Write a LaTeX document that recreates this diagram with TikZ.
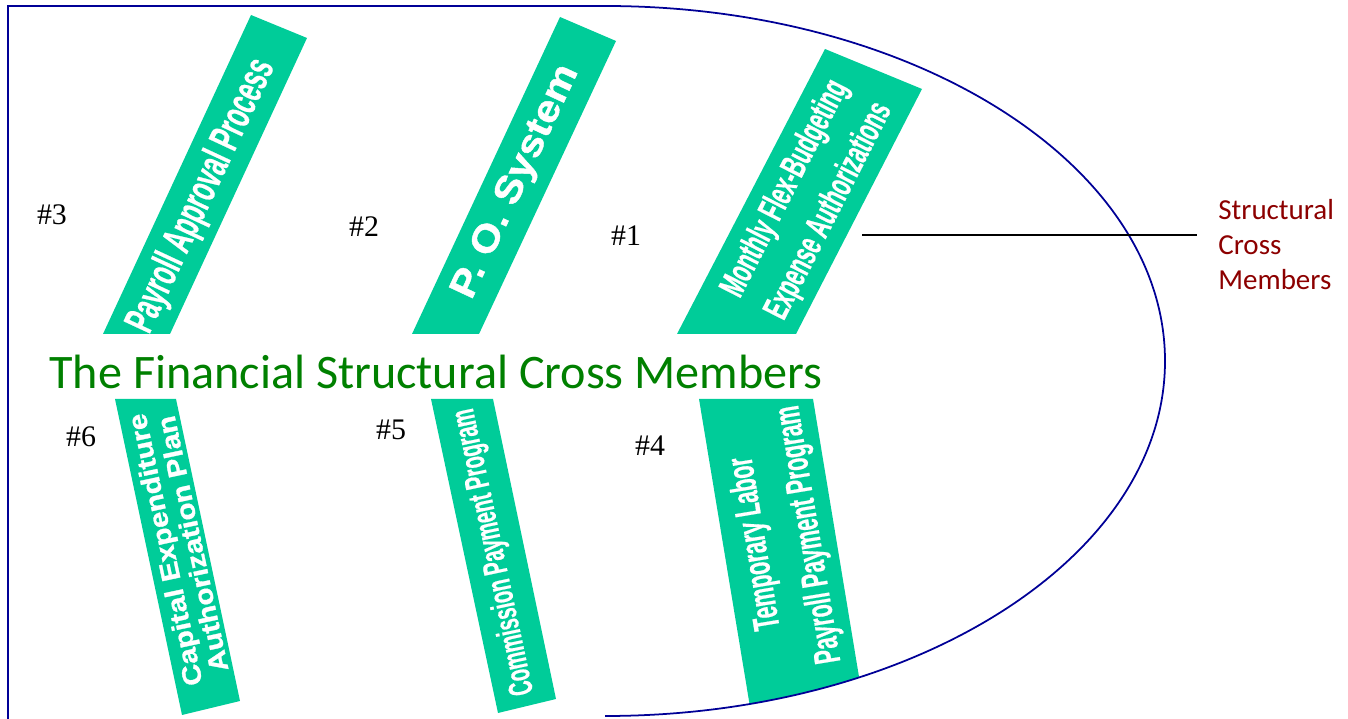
\documentclass[tikz,border=0pt]{standalone}
\usepackage{fontspec}
\setmainfont{Liberation Serif}
\newfontfamily\calibri{Carlito}
\newfontfamily\narrowsans[FakeStretch=0.58,FakeBold=0.5]{Liberation Sans}
\newfontfamily\widesans[FakeStretch=1.12,FakeBold=1.2]{Liberation Sans}
\usepackage{xcolor}
\definecolor{bonegreen}{RGB}{0,204,153}
\definecolor{shellblue}{RGB}{0,0,150}
\definecolor{titlegreen}{RGB}{0,128,0}
\definecolor{labelred}{RGB}{140,0,0}

\begin{document}
\begin{tikzpicture}[
	bone/.style={fill=bonegreen},
	bonetext/.style={text=white, align=center, inner sep=0pt},
	num/.style={font=\fontsize{17}{20}\selectfont, inner sep=0pt},
	shell/.style={draw=shellblue, line width=1pt},
	leader/.style={draw=black, line width=0.8pt}
	]
	\useasboundingbox (0,0) rectangle (26.96,14.38);
	
	% ===== UPPER BONES =====
	\fill[bone] (5.02,14.08) -- (6.14,13.62) -- (3.40,7.70) -- (2.06,7.70) -- cycle;
	\fill[bone] (11.20,14.04) -- (12.32,13.56) -- (9.58,7.70) -- (8.24,7.70) -- cycle;
	\fill[bone] (16.50,13.40) -- (18.44,12.60) -- (15.92,7.70) -- (13.54,7.70) -- cycle;
	
	% ===== LOWER BONES =====
	\fill[bone] (2.30,6.40) -- (3.52,6.40) -- (4.80,0.36) -- (3.64,0.08) -- cycle;
	\fill[bone] (8.62,6.40) -- (9.86,6.40) -- (11.12,0.40) -- (9.96,0.12) -- cycle;
	\begin{scope}
		\clip (12.1,7.16) ellipse [x radius=11.2, y radius=7.1];
		\fill[bone] (13.98,6.40) -- (16.26,6.40) -- (17.32,0) -- (15.04,0) -- cycle;
	\end{scope}
	
	% ===== BONE TEXTS =====
	\node[bonetext, rotate=65, font=\narrowsans\bfseries\fontsize{24}{28}\selectfont] (payroll) at (4.04,10.46) {Payroll Approval Process};
	\node[bonetext, rotate=65, font=\widesans\bfseries\fontsize{21.5}{24}\selectfont] (po) at (10.33,10.74) {P. O. System};
	\node[bonetext, rotate=63, font=\narrowsans\bfseries\fontsize{20.5}{28}\selectfont] (flex) at (16.15,10.38) {Monthly Flex-Budgeting\\Expense Authorizations};
	
	\node[bonetext, rotate=102, font=\widesans\bfseries\fontsize{15}{16}\selectfont] (capex) at (3.57,3.44) {Capital Expenditure\\Authorization Plan};
	\node[bonetext, rotate=102, font=\narrowsans\bfseries\fontsize{19.3}{22}\selectfont] (commission) at (9.89,3.34) {Commission Payment Program};
	\node[bonetext, rotate=99.4, font=\narrowsans\bfseries\fontsize{21}{31}\selectfont] (templabor) at (15.66,3.60) {Temporary Labor\\Payroll Payment Program};
	
	% ===== NUMBERS =====
	\node[num] (n3) at (1.04,10.08) {\#3};
	\node[num] (n2) at (7.28,9.84) {\#2};
	\node[num] (n1) at (12.52,9.66) {\#1};
	\node[num] (n6) at (1.62,5.64) {\#6};
	\node[num] (n5) at (7.82,5.78) {\#5};
	\node[num] (n4) at (13.00,5.46) {\#4};
	
	% ===== TITLE =====
	\node[anchor=base, text=titlegreen, font=\calibri\fontsize{27.4}{32}\selectfont] (title) at (8.72,6.60) {The Financial Structural Cross Members};
	
	% ===== SHELL =====
	\draw[shell] (0.16,-0.1) -- (0.16,14.26) -- (12.1,14.26)
		arc[start angle=90, end angle=-90, x radius=11.2, y radius=7.1];
	
	% ===== LABEL =====
	\node[anchor=west, align=left, inner sep=0pt, text=labelred, font=\calibri\fontsize{16.5}{20}\selectfont] (lblSCM) at (24.36,9.49) {Structural\\Cross\\Members};
	\coordinate (tick) at (17.24,9.68);
	\draw[leader] (tick) -- ([xshift=-4.2mm]tick -| lblSCM.west);
\end{tikzpicture}
\end{document}
